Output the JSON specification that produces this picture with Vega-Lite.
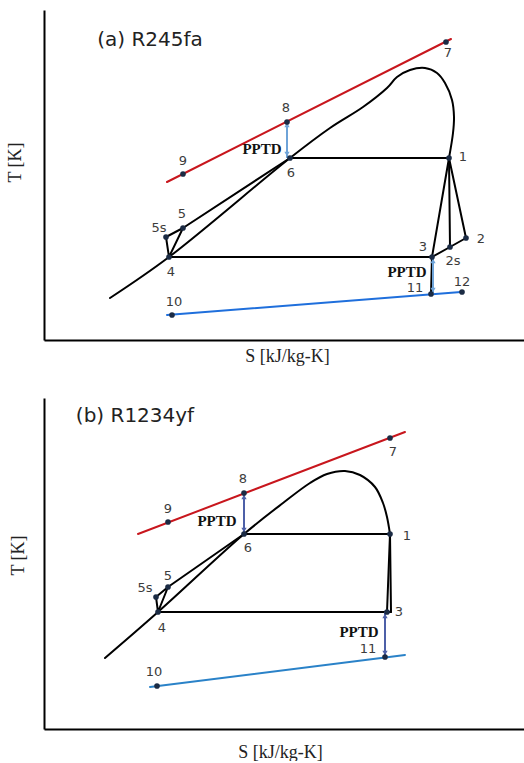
{
  "$schema": "https://vega.github.io/schema/vega-lite/v6.json",
  "padding": {"left": 6, "top": 10, "right": 0, "bottom": 0},
  "spacing": 33,
  "background": "white",
  "config": {
    "view": {"stroke": null},
    "axis": {"domainColor": "#000000", "domainWidth": 2, "ticks": false, "labels": false, "grid": false, "titleFont": "Liberation Serif", "titleFontSize": 18, "titleFontWeight": "normal", "titleColor": "#222222"}
  },
  "datasets": {
    "lines": [
      {"p":"a","seg":"dome","k":"black","o":0,"S":66,"T":42},
      {"p":"a","seg":"dome","k":"black","o":1,"S":125,"T":83},
      {"p":"a","seg":"dome","k":"black","o":2,"S":246,"T":182},
      {"p":"a","seg":"dome","k":"black","o":3,"S":286,"T":212},
      {"p":"a","seg":"dome","k":"black","o":4,"S":319,"T":233},
      {"p":"a","seg":"dome","k":"black","o":5,"S":343,"T":252},
      {"p":"a","seg":"dome","k":"black","o":6,"S":353,"T":263},
      {"p":"a","seg":"dome","k":"black","o":7,"S":366,"T":270},
      {"p":"a","seg":"dome","k":"black","o":8,"S":381,"T":272},
      {"p":"a","seg":"dome","k":"black","o":9,"S":393,"T":267},
      {"p":"a","seg":"dome","k":"black","o":10,"S":401,"T":257},
      {"p":"a","seg":"dome","k":"black","o":11,"S":408,"T":240},
      {"p":"a","seg":"dome","k":"black","o":12,"S":410,"T":223},
      {"p":"a","seg":"dome","k":"black","o":13,"S":409,"T":207},
      {"p":"a","seg":"dome","k":"black","o":14,"S":405,"T":182},
      {"p":"a","seg":"vap","k":"black","o":0,"S":405,"T":182},
      {"p":"a","seg":"vap","k":"black","o":1,"S":388,"T":83},
      {"p":"a","seg":"vap","k":"black","o":2,"S":387,"T":46},
      {"p":"a","seg":"hot","k":"red","o":0,"S":123,"T":158},
      {"p":"a","seg":"hot","k":"red","o":1,"S":407,"T":301},
      {"p":"a","seg":"cold","k":"blue_a","o":0,"S":123,"T":25},
      {"p":"a","seg":"cold","k":"blue_a","o":1,"S":417,"T":48},
      {"p":"a","seg":"evap","k":"black","o":0,"S":246,"T":182},
      {"p":"a","seg":"evap","k":"black","o":1,"S":405,"T":182},
      {"p":"a","seg":"cond","k":"black","o":0,"S":125,"T":83},
      {"p":"a","seg":"cond","k":"black","o":1,"S":388,"T":83},
      {"p":"a","seg":"exp","k":"black","o":0,"S":405,"T":182},
      {"p":"a","seg":"exp","k":"black","o":1,"S":422,"T":102},
      {"p":"a","seg":"exps","k":"black","o":0,"S":405,"T":182},
      {"p":"a","seg":"exps","k":"black","o":1,"S":406,"T":93},
      {"p":"a","seg":"desup","k":"black","o":0,"S":388,"T":83},
      {"p":"a","seg":"desup","k":"black","o":1,"S":406,"T":93},
      {"p":"a","seg":"desup","k":"black","o":2,"S":422,"T":102},
      {"p":"a","seg":"pump","k":"black","o":0,"S":125,"T":83},
      {"p":"a","seg":"pump","k":"black","o":1,"S":122,"T":103},
      {"p":"a","seg":"pump","k":"black","o":2,"S":139,"T":112},
      {"p":"a","seg":"pump","k":"black","o":3,"S":125,"T":83},
      {"p":"a","seg":"heat","k":"black","o":0,"S":139,"T":112},
      {"p":"a","seg":"heat","k":"black","o":1,"S":246,"T":182},

      {"p":"b","seg":"dome","k":"black","o":0,"S":61,"T":71},
      {"p":"b","seg":"dome","k":"black","o":1,"S":114,"T":117},
      {"p":"b","seg":"dome","k":"black","o":2,"S":200,"T":195},
      {"p":"b","seg":"dome","k":"black","o":3,"S":239,"T":226},
      {"p":"b","seg":"dome","k":"black","o":4,"S":266,"T":246},
      {"p":"b","seg":"dome","k":"black","o":5,"S":283,"T":255},
      {"p":"b","seg":"dome","k":"black","o":6,"S":301,"T":258},
      {"p":"b","seg":"dome","k":"black","o":7,"S":316,"T":254},
      {"p":"b","seg":"dome","k":"black","o":8,"S":331,"T":242},
      {"p":"b","seg":"dome","k":"black","o":9,"S":339,"T":226},
      {"p":"b","seg":"dome","k":"black","o":10,"S":343,"T":212},
      {"p":"b","seg":"dome","k":"black","o":11,"S":346,"T":195},
      {"p":"b","seg":"vap","k":"black","o":0,"S":346,"T":195},
      {"p":"b","seg":"vap","k":"black","o":1,"S":347,"T":117},
      {"p":"b","seg":"wedge","k":"black","o":0,"S":346,"T":195},
      {"p":"b","seg":"wedge","k":"black","o":1,"S":343,"T":117},
      {"p":"b","seg":"hot","k":"red","o":0,"S":94,"T":195},
      {"p":"b","seg":"hot","k":"red","o":1,"S":361,"T":297},
      {"p":"b","seg":"cold","k":"blue_b","o":0,"S":106,"T":42},
      {"p":"b","seg":"cold","k":"blue_b","o":1,"S":361,"T":74},
      {"p":"b","seg":"evap","k":"black","o":0,"S":200,"T":195},
      {"p":"b","seg":"evap","k":"black","o":1,"S":346,"T":195},
      {"p":"b","seg":"cond","k":"black","o":0,"S":114,"T":117},
      {"p":"b","seg":"cond","k":"black","o":1,"S":347,"T":117},
      {"p":"b","seg":"pump","k":"black","o":0,"S":114,"T":117},
      {"p":"b","seg":"pump","k":"black","o":1,"S":112,"T":132},
      {"p":"b","seg":"pump","k":"black","o":2,"S":124,"T":142},
      {"p":"b","seg":"pump","k":"black","o":3,"S":114,"T":117},
      {"p":"b","seg":"heat","k":"black","o":0,"S":124,"T":142},
      {"p":"b","seg":"heat","k":"black","o":1,"S":200,"T":195}
    ],
    "arrows": [
      {"p":"a","k":"arr_a","S":243,"T":182,"T2":219},
      {"p":"a","k":"arr_a","S":389,"T":46,"T2":83},
      {"p":"b","k":"arr_b","S":200,"T":195,"T2":236},
      {"p":"b","k":"arr_b","S":341,"T":72,"T2":117}
    ],
    "heads": [
      {"p":"a","k":"arr_a","dir":"up","S":243,"T":215},
      {"p":"a","k":"arr_a","dir":"down","S":243,"T":186},
      {"p":"a","k":"arr_a","dir":"up","S":389,"T":79},
      {"p":"a","k":"arr_a","dir":"down","S":389,"T":50},
      {"p":"b","k":"arr_b","dir":"up","S":200,"T":232},
      {"p":"b","k":"arr_b","dir":"down","S":200,"T":199},
      {"p":"b","k":"arr_b","dir":"up","S":341,"T":113},
      {"p":"b","k":"arr_b","dir":"down","S":341,"T":76}
    ],
    "points": [
      {"p":"a","id":"1","S":405,"T":182},
      {"p":"a","id":"2","S":422,"T":102},
      {"p":"a","id":"2s","S":406,"T":93},
      {"p":"a","id":"3","S":388,"T":83},
      {"p":"a","id":"4","S":125,"T":83},
      {"p":"a","id":"5","S":139,"T":112},
      {"p":"a","id":"5s","S":122,"T":103},
      {"p":"a","id":"6","S":246,"T":182},
      {"p":"a","id":"7","S":402,"T":298},
      {"p":"a","id":"8","S":243,"T":218},
      {"p":"a","id":"9","S":139,"T":166},
      {"p":"a","id":"10","S":128,"T":25},
      {"p":"a","id":"11","S":387,"T":46},
      {"p":"a","id":"12","S":418,"T":48},
      {"p":"b","id":"1","S":346,"T":195},
      {"p":"b","id":"3","S":343,"T":117},
      {"p":"b","id":"4","S":114,"T":117},
      {"p":"b","id":"5","S":124,"T":142},
      {"p":"b","id":"5s","S":112,"T":132},
      {"p":"b","id":"6","S":200,"T":195},
      {"p":"b","id":"7","S":346,"T":291},
      {"p":"b","id":"8","S":200,"T":236},
      {"p":"b","id":"9","S":124,"T":207},
      {"p":"b","id":"10","S":113,"T":43},
      {"p":"b","id":"11","S":341,"T":72}
    ],
    "labels": [
      {"p":"a","typ":"title","txt":"(a) R245fa","S":106,"T":300},
      {"p":"a","typ":"num","txt":"7","S":404,"T":287},
      {"p":"a","typ":"num","txt":"8","S":242,"T":232},
      {"p":"a","typ":"num","txt":"9","S":139,"T":179},
      {"p":"a","typ":"num","txt":"6","S":247,"T":167},
      {"p":"a","typ":"num","txt":"1","S":419,"T":183},
      {"p":"a","typ":"num","txt":"5","S":138,"T":126},
      {"p":"a","typ":"num","txt":"5s","S":115,"T":112},
      {"p":"a","typ":"num","txt":"4","S":127,"T":68},
      {"p":"a","typ":"num","txt":"3","S":379,"T":93},
      {"p":"a","typ":"num","txt":"2s","S":409,"T":79},
      {"p":"a","typ":"num","txt":"2","S":437,"T":101},
      {"p":"a","typ":"num","txt":"11","S":371,"T":52},
      {"p":"a","typ":"num","txt":"12","S":418,"T":58},
      {"p":"a","typ":"num","txt":"10","S":130,"T":38},
      {"p":"a","typ":"pptd","txt":"PPTD","S":218,"T":191},
      {"p":"a","typ":"pptd","txt":"PPTD","S":363,"T":68},
      {"p":"b","typ":"title","txt":"(b) R1234yf","S":91,"T":313},
      {"p":"b","typ":"num","txt":"7","S":349,"T":277},
      {"p":"b","typ":"num","txt":"8","S":199,"T":250},
      {"p":"b","typ":"num","txt":"9","S":124,"T":220},
      {"p":"b","typ":"num","txt":"6","S":204,"T":181},
      {"p":"b","typ":"num","txt":"1","S":363,"T":193},
      {"p":"b","typ":"num","txt":"5","S":124,"T":153},
      {"p":"b","typ":"num","txt":"5s","S":101,"T":141},
      {"p":"b","typ":"num","txt":"4","S":118,"T":101},
      {"p":"b","typ":"num","txt":"3","S":355,"T":117},
      {"p":"b","typ":"num","txt":"11","S":324,"T":80},
      {"p":"b","typ":"num","txt":"10","S":110,"T":57},
      {"p":"b","typ":"pptd","txt":"PPTD","S":173,"T":208},
      {"p":"b","typ":"pptd","txt":"PPTD","S":315,"T":97}
    ]
  },
  "vconcat": [
    {
      "width": 480,
      "height": 330,
      "encoding": {
        "x": {"field": "S", "type": "quantitative", "scale": {"domain": [0, 480], "nice": false, "zero": false}, "axis": {"title": "S [kJ/kg-K]", "titlePadding": 7, "titleX": 243}},
        "y": {"field": "T", "type": "quantitative", "scale": {"domain": [0, 330], "nice": false, "zero": false}, "axis": {"title": "T [K]", "titlePadding": 20, "titleY": 152}}
      },
      "layer": [
        {
          "data": {"name": "lines"},
          "transform": [{"filter": "datum.p === 'a' && datum.seg === 'dome'"}],
          "mark": {"type": "line", "strokeWidth": 2, "interpolate": "catmull-rom", "strokeCap": "round", "strokeJoin": "round", "color": "#000000"},
          "encoding": {
            "order": {"field": "o", "type": "quantitative"}
          }
        },
        {
          "data": {"name": "lines"},
          "transform": [{"filter": "datum.p === 'a' && datum.seg !== 'dome'"}],
          "mark": {"type": "line", "strokeWidth": 2, "strokeCap": "round", "strokeJoin": "round"},
          "encoding": {
            "detail": {"field": "seg"},
            "order": {"field": "o", "type": "quantitative"},
            "color": {"field": "k", "type": "nominal", "legend": null, "scale": {"domain": ["black", "red", "blue_a", "blue_b", "arr_a", "arr_b"], "range": ["#000000", "#c8161d", "#1f6fdc", "#2a82c8", "#6ea3d8", "#4d60a8"]}}
          }
        },
        {
          "data": {"name": "arrows"},
          "transform": [{"filter": "datum.p === 'a'"}],
          "mark": {"type": "rule", "strokeWidth": 2},
          "encoding": {
            "y2": {"field": "T2"},
            "color": {"field": "k", "type": "nominal", "legend": null, "scale": {"domain": ["black", "red", "blue_a", "blue_b", "arr_a", "arr_b"], "range": ["#000000", "#c8161d", "#1f6fdc", "#2a82c8", "#6ea3d8", "#4d60a8"]}}
          }
        },
        {
          "data": {"name": "heads"},
          "transform": [{"filter": "datum.p === 'a'"}],
          "mark": {"type": "point", "filled": true, "size": 28, "opacity": 1},
          "encoding": {
            "shape": {"field": "dir", "type": "nominal", "legend": null, "scale": {"domain": ["up", "down"], "range": ["triangle-up", "triangle-down"]}},
            "color": {"field": "k", "type": "nominal", "legend": null, "scale": {"domain": ["black", "red", "blue_a", "blue_b", "arr_a", "arr_b"], "range": ["#000000", "#c8161d", "#1f6fdc", "#2a82c8", "#6ea3d8", "#4d60a8"]}}
          }
        },
        {
          "data": {"name": "points"},
          "transform": [{"filter": "datum.p === 'a'"}],
          "mark": {"type": "point", "filled": true, "size": 32, "opacity": 1, "color": "#1b2b44"},
          "encoding": {}
        },
        {
          "data": {"name": "labels"},
          "transform": [{"filter": "datum.p === 'a' && datum.typ === 'num'"}],
          "mark": {"type": "text", "font": "DejaVu Sans", "fontSize": 13, "color": "#3c3c3c", "align": "center", "baseline": "middle"},
          "encoding": {"text": {"field": "txt"}}
        },
        {
          "data": {"name": "labels"},
          "transform": [{"filter": "datum.p === 'a' && datum.typ === 'pptd'"}],
          "mark": {"type": "text", "font": "Liberation Serif", "fontWeight": "bold", "fontSize": 15, "color": "#111111", "align": "center", "baseline": "middle"},
          "encoding": {"text": {"field": "txt"}}
        },
        {
          "data": {"name": "labels"},
          "transform": [{"filter": "datum.p === 'a' && datum.typ === 'title'"}],
          "mark": {"type": "text", "font": "DejaVu Sans", "fontSize": 20, "color": "#222222", "align": "center", "baseline": "middle"},
          "encoding": {"text": {"field": "txt"}}
        }
      ]
    },
    {
      "width": 480,
      "height": 331,
      "encoding": {
        "x": {"field": "S", "type": "quantitative", "scale": {"domain": [0, 480], "nice": false, "zero": false}, "axis": {"title": "S [kJ/kg-K]", "titlePadding": 14, "titleX": 236}},
        "y": {"field": "T", "type": "quantitative", "scale": {"domain": [0, 331], "nice": false, "zero": false}, "axis": {"title": "T [K]", "titlePadding": 17, "titleY": 157}}
      },
      "layer": [
        {
          "data": {"name": "lines"},
          "transform": [{"filter": "datum.p === 'b' && datum.seg === 'dome'"}],
          "mark": {"type": "line", "strokeWidth": 2, "interpolate": "catmull-rom", "strokeCap": "round", "strokeJoin": "round", "color": "#000000"},
          "encoding": {
            "order": {"field": "o", "type": "quantitative"}
          }
        },
        {
          "data": {"name": "lines"},
          "transform": [{"filter": "datum.p === 'b' && datum.seg !== 'dome'"}],
          "mark": {"type": "line", "strokeWidth": 2, "strokeCap": "round", "strokeJoin": "round"},
          "encoding": {
            "detail": {"field": "seg"},
            "order": {"field": "o", "type": "quantitative"},
            "color": {"field": "k", "type": "nominal", "legend": null, "scale": {"domain": ["black", "red", "blue_a", "blue_b", "arr_a", "arr_b"], "range": ["#000000", "#c8161d", "#1f6fdc", "#2a82c8", "#6ea3d8", "#4d60a8"]}}
          }
        },
        {
          "data": {"name": "arrows"},
          "transform": [{"filter": "datum.p === 'b'"}],
          "mark": {"type": "rule", "strokeWidth": 2},
          "encoding": {
            "y2": {"field": "T2"},
            "color": {"field": "k", "type": "nominal", "legend": null, "scale": {"domain": ["black", "red", "blue_a", "blue_b", "arr_a", "arr_b"], "range": ["#000000", "#c8161d", "#1f6fdc", "#2a82c8", "#6ea3d8", "#4d60a8"]}}
          }
        },
        {
          "data": {"name": "heads"},
          "transform": [{"filter": "datum.p === 'b'"}],
          "mark": {"type": "point", "filled": true, "size": 28, "opacity": 1},
          "encoding": {
            "shape": {"field": "dir", "type": "nominal", "legend": null, "scale": {"domain": ["up", "down"], "range": ["triangle-up", "triangle-down"]}},
            "color": {"field": "k", "type": "nominal", "legend": null, "scale": {"domain": ["black", "red", "blue_a", "blue_b", "arr_a", "arr_b"], "range": ["#000000", "#c8161d", "#1f6fdc", "#2a82c8", "#6ea3d8", "#4d60a8"]}}
          }
        },
        {
          "data": {"name": "points"},
          "transform": [{"filter": "datum.p === 'b'"}],
          "mark": {"type": "point", "filled": true, "size": 32, "opacity": 1, "color": "#1b2b44"},
          "encoding": {}
        },
        {
          "data": {"name": "labels"},
          "transform": [{"filter": "datum.p === 'b' && datum.typ === 'num'"}],
          "mark": {"type": "text", "font": "DejaVu Sans", "fontSize": 13, "color": "#3c3c3c", "align": "center", "baseline": "middle"},
          "encoding": {"text": {"field": "txt"}}
        },
        {
          "data": {"name": "labels"},
          "transform": [{"filter": "datum.p === 'b' && datum.typ === 'pptd'"}],
          "mark": {"type": "text", "font": "Liberation Serif", "fontWeight": "bold", "fontSize": 15, "color": "#111111", "align": "center", "baseline": "middle"},
          "encoding": {"text": {"field": "txt"}}
        },
        {
          "data": {"name": "labels"},
          "transform": [{"filter": "datum.p === 'b' && datum.typ === 'title'"}],
          "mark": {"type": "text", "font": "DejaVu Sans", "fontSize": 20, "color": "#222222", "align": "center", "baseline": "middle"},
          "encoding": {"text": {"field": "txt"}}
        }
      ]
    }
  ]
}
